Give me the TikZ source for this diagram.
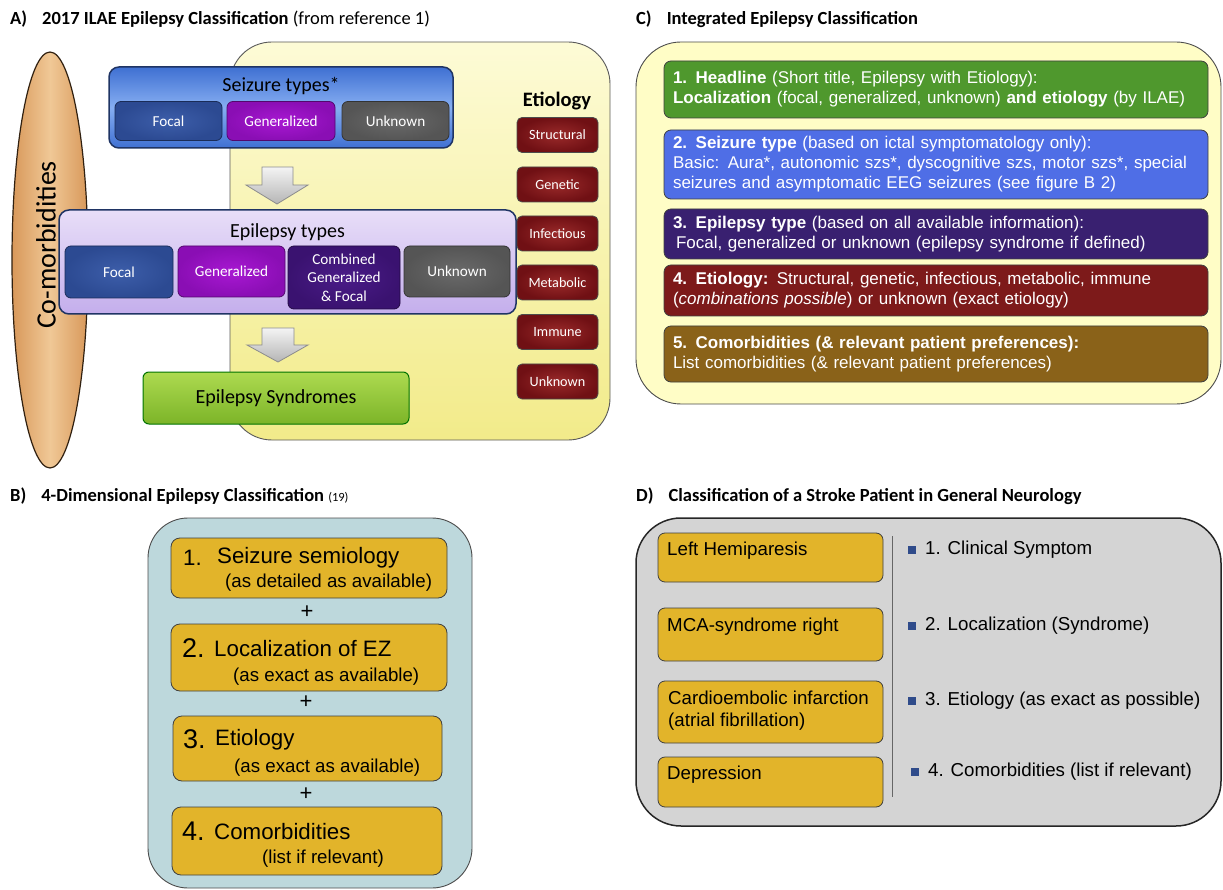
\documentclass[tikz,border=0pt]{standalone}
\usepackage{fontspec}
\setmainfont{Carlito}
\newfontfamily\tah{Liberation Sans}
\usetikzlibrary{shapes.geometric}
\definecolor{yelA}{HTML}{FDFBD6}
\definecolor{yelB}{HTML}{F2EB8A}
\definecolor{tanA}{HTML}{D8985A}
\definecolor{tanB}{HTML}{F0C896}
\definecolor{blueA}{HTML}{3F70D2}
\definecolor{blueB}{HTML}{86AEF2}
\definecolor{navy}{HTML}{1F3464}
\definecolor{focA}{HTML}{2C4A92}
\definecolor{focB}{HTML}{3D5EAA}
\definecolor{genA}{HTML}{8A0EB4}
\definecolor{genB}{HTML}{A818D2}
\definecolor{unkA}{HTML}{555555}
\definecolor{unkB}{HTML}{6A6A6A}
\definecolor{comA}{HTML}{3A1270}
\definecolor{comB}{HTML}{4A1C88}
\definecolor{lavA}{HTML}{E8DEF8}
\definecolor{lavB}{HTML}{C4AEEC}
\definecolor{etiA}{HTML}{701014}
\definecolor{etiB}{HTML}{9A2A2A}
\definecolor{grnA}{HTML}{ADDA50}
\definecolor{grnB}{HTML}{7CB428}
\definecolor{arrA}{HTML}{F4F4F4}
\definecolor{arrB}{HTML}{B5B5B5}
\definecolor{cyel}{HTML}{FFFDC6}
\definecolor{cgrn}{HTML}{4F982D}
\definecolor{cblu}{HTML}{4F6EE6}
\definecolor{cpur}{HTML}{392070}
\definecolor{cred}{HTML}{7D1A1A}
\definecolor{cbrn}{HTML}{8A6219}
\definecolor{bblu}{HTML}{BDD8DC}
\definecolor{gold}{HTML}{E2B42A}
\definecolor{dgray}{HTML}{D4D4D4}
\definecolor{bul}{HTML}{2F4B8A}
\tikzset{
  bx/.style={inner sep=0pt, outer sep=0pt},
  subbox/.style={bx, draw=#1!60!black, line width=0.8pt, rounded corners=6pt, text=white, font=\fontsize{15.2}{18}\selectfont},
  etibox/.style={bx, draw=black!70, line width=0.8pt, rounded corners=5pt, inner color=etiB, outer color=etiA, text=white, font=\fontsize{14.2}{16}\selectfont, minimum width=81pt, minimum height=35pt},
  arrowsty/.style={draw=black!45, line width=0.8pt, top color=arrA, bottom color=arrB},
  cbox/.style={bx, draw=black!75, line width=0.8pt, rounded corners=7pt, minimum width=544pt, text=white, text width=526pt, align=left, font=\tah\fontsize{17}{20}\selectfont},
  goldbox/.style={bx, draw=black!75, line width=0.8pt, rounded corners=9pt, fill=gold},
  title/.style={anchor=west, inner sep=0pt, font=\fontsize{18.5}{21}\selectfont},
  dtext/.style={anchor=west, inner sep=0pt, align=left, font=\tah\fontsize{18.7}{22}\selectfont},
  bullet/.style={fill=bul, minimum size=7.5pt, inner sep=0pt},
  btext/.style={anchor=west, inner sep=0pt, font=\tah\fontsize{22.3}{24}\selectfont},
  bsmall/.style={anchor=west, inner sep=0pt, font=\tah\fontsize{18.7}{22}\selectfont},
  bnum/.style={anchor=west, inner sep=0pt, font=\tah\fontsize{27}{30}\selectfont},
  plus/.style={inner sep=0pt, font=\tah\fontsize{22}{24}\selectfont},
}
\begin{document}
\begin{tikzpicture}[x=1pt,y=-1pt]
\useasboundingbox (0,0) rectangle (1223,890);
% ---------- titles
\node[title] (tA) at (10,19) {\bfseries A)\hspace{15pt}2017 ILAE Epilepsy Classification \mdseries(from reference 1)};
\node[title] (tB) at (10,496) {\bfseries B)\hspace{15pt}4-Dimensional Epilepsy Classification {\mdseries\fontsize{12.5}{14}\selectfont(19)}};
\node[title] (tC) at (636,19) {\bfseries C)\hspace{15pt}Integrated Epilepsy Classification};
\node[title] (tD) at (636,496) {\bfseries D)\hspace{15pt}Classification of a Stroke Patient in General Neurology};
% ---------- panel A
\node[bx, draw=black!65, line width=0.9pt, rounded corners=42pt, top color=yelA, bottom color=yelB, minimum width=380pt, minimum height=398pt] (ay) at (420,241) {};
\node[bx, ellipse, draw=black!75!brown, line width=1.2pt, left color=tanA, right color=tanA, middle color=tanB, minimum width=76pt, minimum height=416pt] (com) at (50,260) {};
\node[rotate=90, inner sep=0pt] (comt) at (46,245) {\fontsize{28}{32}\selectfont Co-morbidities};
% seizure types
\node[bx, draw=navy, line width=1.5pt, rounded corners=10pt, top color=blueA, bottom color=blueA, middle color=blueB, minimum width=344pt, minimum height=81pt] (sz) at (281,107.5) {};
\node[inner sep=0pt] (szt) at (281,86) {\fontsize{20}{22}\selectfont Seizure types*};
\node[subbox=focA, inner color=focB, outer color=focA, minimum width=107pt, minimum height=39pt] (szf) at (168.5,121) {Focal};
\node[subbox=genA, inner color=genB, outer color=genA, minimum width=108pt, minimum height=39pt] (szg) at (281,121) {Generalized};
\node[subbox=unkA, inner color=unkB, outer color=unkA, minimum width=107pt, minimum height=39pt] (szu) at (395.5,121) {Unknown};
% arrows
\draw[arrowsty] (262,167) -- (293,167) -- (293,185) -- (308,185) -- (277,204) -- (246,185) -- (262,185) -- cycle;
% epilepsy types
\node[bx, draw=navy, line width=1.5pt, rounded corners=10pt, top color=lavA, bottom color=lavB, minimum width=457pt, minimum height=104pt] (et) at (287.5,262) {};
\node[inner sep=0pt] (ett) at (287.5,232) {\fontsize{20}{22}\selectfont Epilepsy types};
\node[subbox=focA, inner color=focB, outer color=focA, minimum width=108pt, minimum height=52pt] (etf) at (119,272) {Focal};
\node[subbox=genA, inner color=genB, outer color=genA, minimum width=107pt, minimum height=51pt] (etg) at (231.5,271.5) {Generalized};
\node[subbox=comA, inner color=comB, outer color=comA, minimum width=112pt, minimum height=63pt, align=center, font=\fontsize{15.2}{18.5}\selectfont] (etc) at (344,277.5) {Combined\\Generalized\\\& Focal};
\node[subbox=unkA, inner color=unkB, outer color=unkA, minimum width=106pt, minimum height=51pt] (etu) at (457,271.5) {Unknown};
\draw[arrowsty] (262,328) -- (294,328) -- (294,345) -- (308,345) -- (278,362) -- (247,345) -- (262,345) -- cycle;
% syndromes
\node[bx, draw=black!55!green, line width=1pt, rounded corners=6pt, top color=grnA, bottom color=grnB, minimum width=266pt, minimum height=52pt, font=\fontsize{20}{22}\selectfont] (syn) at (276,398) {Epilepsy Syndromes};
% etiology
\node[inner sep=0pt] (etio) at (557,101) {\fontsize{20.5}{22}\selectfont\bfseries Etiology};
\node[etibox] (e1) at (557.5,135) {Structural};
\node[etibox] (e2) at (557.5,184.5) {Genetic};
\node[etibox] (e3) at (557.5,233.5) {Infectious};
\node[etibox] (e4) at (557.5,282.5) {Metabolic};
\node[etibox] (e5) at (557.5,332) {Immune};
\node[etibox] (e6) at (557.5,381.5) {Unknown};
% ---------- panel C
\node[bx, draw=black!70, line width=0.9pt, rounded corners=45pt, fill=cyel, minimum width=585pt, minimum height=362pt] (cy) at (928.5,223) {};
\node[cbox, fill=cgrn, minimum height=57pt] (c1) at (936,89.5) {\textbf{1. Headline} (Short title, Epilepsy with Etiology):\\\textbf{Localization} (focal, generalized, unknown) \textbf{and etiology} (by ILAE)};
\node[cbox, fill=cblu, minimum height=69pt] (c2) at (936,164.5) {\textbf{2. Seizure type} (based on ictal symptomatology only):\\Basic: Aura*, autonomic szs*, dyscognitive szs, motor szs*, special\\seizures and asymptomatic EEG seizures (see figure B 2)};
\node[cbox, fill=cpur, minimum height=50pt] (c3) at (936,234) {\textbf{3. Epilepsy type} (based on all available information):\\\hspace*{3pt}Focal, generalized or unknown (epilepsy syndrome if defined)};
\node[cbox, fill=cred, minimum height=51pt] (c4) at (936,290.5) {\textbf{4. Etiology:} Structural, genetic, infectious, metabolic, immune\\(\textit{combinations possible}) or unknown (exact etiology)};
\node[cbox, fill=cbrn, minimum height=56pt] (c5) at (936,354) {\textbf{5. Comorbidities (\& relevant patient preferences):}\\List comorbidities (\& relevant patient preferences)};
% ---------- panel B
\node[bx, draw=black!70, line width=0.9pt, rounded corners=40pt, fill=bblu, minimum width=324pt, minimum height=370pt] (bo) at (310,703) {};
\node[goldbox, minimum width=276pt, minimum height=60pt] (b1) at (309,568) {};
\node[goldbox, minimum width=276pt, minimum height=67pt] (b2) at (309,657.5) {};
\node[goldbox, minimum width=269pt, minimum height=65pt] (b3) at (307.5,748.5) {};
\node[goldbox, minimum width=270pt, minimum height=68pt] (b4) at (307,841) {};
\node[btext] (b1n) at (183,558) {1.};
\node[btext] (b1t) at (217,558) {Seizure semiology};
\node[bsmall] (b1s) at (225,583) {(as detailed as available)};
\node[bnum] (b2n) at (182,648) {2.};
\node[btext] (b2t) at (214,649) {Localization of EZ};
\node[bsmall] (b2s) at (233,677) {(as exact as available)};
\node[bnum] (b3n) at (183,739) {3.};
\node[btext] (b3t) at (215,740) {Etiology};
\node[bsmall] (b3s) at (234,768) {(as exact as available)};
\node[bnum] (b4n) at (182,831) {4.};
\node[btext] (b4t) at (214,832) {Comorbidities};
\node[bsmall] (b4s) at (262,859) {(list if relevant)};
\node[plus] (p1) at (307,612) {+};
\node[plus] (p2) at (306,702) {+};
\node[plus] (p3) at (306,794) {+};
% ---------- panel D
\node[bx, draw=black!85, line width=1.5pt, rounded corners=45pt, fill=dgray, minimum width=585pt, minimum height=308pt] (dg) at (928.5,672) {};
\node[goldbox, minimum width=225pt, minimum height=49pt, rounded corners=7pt] (d1) at (770.5,557.5) {};
\node[goldbox, minimum width=225pt, minimum height=53pt, rounded corners=7pt] (d2) at (770.5,634.5) {};
\node[goldbox, minimum width=225pt, minimum height=62pt, rounded corners=7pt] (d3) at (770.5,712) {};
\node[goldbox, minimum width=225pt, minimum height=50pt, rounded corners=7pt] (d4) at (770.5,782) {};
\node[dtext] (d1t) at (667,551) {Left Hemiparesis};
\node[dtext] (d2t) at (667,627) {MCA-syndrome right};
\node[dtext] (d3t) at (668,711) {Cardioembolic infarction\\(atrial fibrillation)};
\node[dtext] (d4t) at (667,775) {Depression};
\coordinate (vt) at (892,536);
\coordinate (vb) at (892,797);
\draw[black!60, line width=1pt] (vt) -- (vb);
\node[bullet] (q1) at (912,550) {};
\node[bullet] (q2) at (912,626) {};
\node[bullet] (q3) at (912,701) {};
\node[bullet] (q4) at (915,772) {};
\node[dtext] (r1) at (925,550) {1. Clinical Symptom};
\node[dtext] (r2) at (925,626) {2. Localization (Syndrome)};
\node[dtext] (r3) at (925,701) {3. Etiology (as exact as possible)};
\node[dtext] (r4) at (928,772) {4. Comorbidities (list if relevant)};
\end{tikzpicture}
\end{document}
